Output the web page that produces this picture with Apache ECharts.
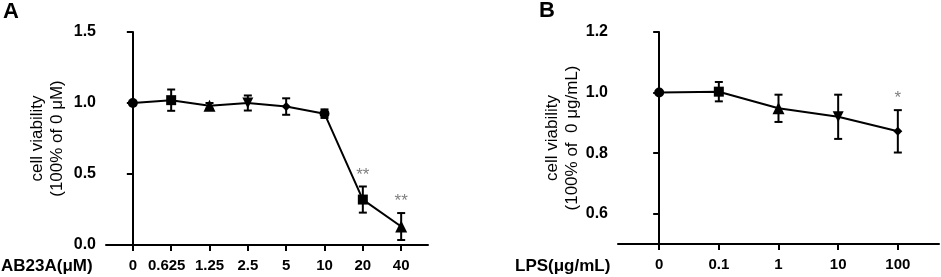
<!DOCTYPE html>
<html>
<head>
<meta charset="utf-8">
<script src="https://cdn.jsdelivr.net/npm/echarts@6/dist/echarts.min.js"></script>
<style>
html,body{margin:0;padding:0;background:#fff;}
#c{width:941px;height:277px;}
</style>
</head>
<body>
<div id="c"></div>
<script>
// Panel A data
const catsA = ['0', '0.625', '1.25', '2.5', '5', '10', '20', '40'];
const meanA = [1.00, 1.02, 0.98, 1.00, 0.975, 0.925, 0.32, 0.13];
const errA  = [0.00, 0.075, 0.02, 0.053, 0.058, 0.03, 0.092, 0.095];
const symA  = ['circle', 'rect', 'triangle', 'invTriangle', 'diamond', 'circle', 'rect', 'triangle'];
const sigA  = ['', '', '', '', '', '', '**', '**'];
const yTicksA = [0, 0.5, 1.0, 1.5];

// Panel B data
const catsB = ['0', '0.1', '1', '10', '100'];
const meanB = [1.00, 1.003, 0.948, 0.92, 0.872];
const errB  = [0.00, 0.032, 0.045, 0.073, 0.07];
const symB  = ['circle', 'rect', 'triangle', 'invTriangle', 'diamond'];
const sigB  = ['', '', '', '', '*'];
const yTicksB = [0.6, 0.8, 1.0, 1.2];

const FONT = 'Liberation Sans, Arial, sans-serif';
const chart = echarts.init(document.getElementById('c'), null, {renderer: 'canvas'});

function symbolOf(s) {
  if (s === 'invTriangle') return {symbol: 'triangle', symbolRotate: 180, symbolSize: 11};
  if (s === 'diamond') return {symbol: 'diamond', symbolSize: 9};
  if (s === 'triangle') return {symbol: 'triangle', symbolSize: 12};
  if (s === 'rect') return {symbol: 'rect', symbolSize: 10};
  return {symbol: 'circle', symbolSize: 10};
}
function lineData(means, syms) {
  return means.map((v, i) => Object.assign({value: [i, v]}, symbolOf(syms[i])));
}
function errData(means, errs, sigs) {
  return means.map((v, i) => [i, v, errs[i], sigs[i]]);
}
function sigsFor(si) { return si === 1 ? sigA : sigB; }
function renderErr(params, api) {
  const x = api.value(0), m = api.value(1), e = api.value(2);
  const sig = sigsFor(params.seriesIndex)[params.dataIndex];
  const top = api.coord([x, m + e]);
  const bot = api.coord([x, m - e]);
  const hw = 4;
  const style = {stroke: '#000', lineWidth: 2};
  const children = [];
  if (e > 0) {
    children.push({type: 'line', shape: {x1: top[0], y1: top[1], x2: bot[0], y2: bot[1]}, style: style});
    children.push({type: 'line', shape: {x1: top[0] - hw, y1: top[1], x2: top[0] + hw, y2: top[1]}, style: style});
    children.push({type: 'line', shape: {x1: bot[0] - hw, y1: bot[1], x2: bot[0] + hw, y2: bot[1]}, style: style});
  }
  if (sig) {
    children.push({type: 'text', style: {text: sig, x: top[0], y: top[1] - 3, align: 'center', verticalAlign: 'bottom',
      fill: '#808080', font: '17px ' + FONT}});
  }
  return {type: 'group', children: children};
}

const axisLineStyle = {color: '#000', width: 2};
function xAxisCfg(gi, cats, min, max) {
  const idx = cats.map((c, i) => i);
  return {
    type: 'value', gridIndex: gi, min: min, max: max,
    axisLine: {show: true, onZero: false, lineStyle: axisLineStyle},
    axisTick: {show: true, customValues: idx, length: 6, lineStyle: axisLineStyle},
    axisLabel: {show: true, customValues: idx, color: '#000',
      formatter: v => {
        const t = cats[Math.round(v)];
        return t === '0.625' ? '{s|' + t + '}' : t;
      },
      rich: {s: {padding: [0, 9, 0, 0], color: '#000', fontFamily: FONT, fontWeight: 'bold', fontSize: 15}},
      fontFamily: FONT, fontWeight: 'bold', fontSize: 15, margin: 13},
    splitLine: {show: false}
  };
}
function yAxisCfg(gi, min, max, ticks, name, gap) {
  return {
    type: 'value', gridIndex: gi, min: min, max: max,
    name: name, nameLocation: 'middle', nameRotate: 90, nameGap: gap,
    nameTextStyle: {color: '#000', fontFamily: FONT, fontSize: 17, lineHeight: 20, align: 'center'},
    axisLine: {show: true, lineStyle: axisLineStyle},
    axisTick: {show: true, customValues: ticks, length: 6, lineStyle: axisLineStyle},
    axisLabel: {show: true, customValues: ticks, formatter: v => v.toFixed(1), color: '#000',
      fontFamily: FONT, fontWeight: 'bold', fontSize: 16, margin: 10},
    splitLine: {show: false}
  };
}

const option = {
  animation: false,
  backgroundColor: '#fff',
  grid: [
    {left: 106, top: 32, width: 322, height: 213},
    {left: 618, top: 32, width: 321, height: 212}
  ],
  xAxis: [xAxisCfg(0, catsA, -0.7, 7.7), xAxisCfg(1, catsB, -0.69, 4.69)],
  yAxis: [
    yAxisCfg(0, 0, 1.5, yTicksA, 'cell viability\n(100% of 0 μM)', 39),
    yAxisCfg(1, 0.5, 1.2, yTicksB, 'cell viability\n(100% of  0 μg/mL)', 35)
  ],
  series: [
    {type: 'line', xAxisIndex: 0, yAxisIndex: 0, data: lineData(meanA, symA),
      lineStyle: {color: '#000', width: 2}, itemStyle: {color: '#000'}, z: 3},
    {type: 'custom', xAxisIndex: 0, yAxisIndex: 0, data: errData(meanA, errA, sigA), renderItem: renderErr, z: 4},
    {type: 'line', xAxisIndex: 1, yAxisIndex: 1, data: lineData(meanB, symB),
      lineStyle: {color: '#000', width: 2}, itemStyle: {color: '#000'}, z: 3},
    {type: 'custom', xAxisIndex: 1, yAxisIndex: 1, data: errData(meanB, errB, sigB), renderItem: renderErr, z: 4}
  ],
  graphic: [
    {type: 'text', left: 3, top: 1, style: {text: 'A', font: 'bold 22px ' + FONT, fill: '#000'}},
    {type: 'text', left: 539, top: 0, style: {text: 'B', font: 'bold 22px ' + FONT, fill: '#000'}},
    {type: 'text', left: 1, top: 258, style: {text: 'AB23A(μM)', font: 'bold 17px ' + FONT, fill: '#000'}},
    {type: 'text', left: 515, top: 258, style: {text: 'LPS(μg/mL)', font: 'bold 17px ' + FONT, fill: '#000'}}
  ]
};
chart.setOption(option);
</script>
</body>
</html>
